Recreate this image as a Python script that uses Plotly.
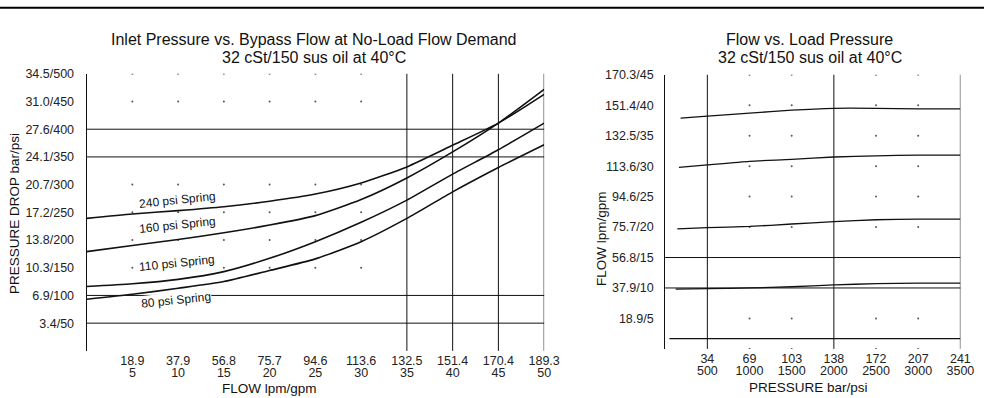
import plotly.graph_objects as go

FONT = "Liberation Sans, Arial, Helvetica, sans-serif"
INK = "#111111"

# ---------------- Left chart: Inlet Pressure vs. Bypass Flow ----------------
flow_gpm = [0, 5, 10, 15, 20, 25, 30, 35, 40, 45, 50]
spring_240 = [239, 247, 253, 260, 270, 283, 303, 332, 371, 411, 463]
spring_160 = [179, 190, 201, 213, 227, 244, 273, 312, 359, 411, 472]
spring_110 = [116, 121, 129, 143, 167, 197, 232, 272, 319, 363, 411]
spring_80 = [93, 102, 113, 125, 145, 166, 197, 239, 287, 331, 372]
spring_names = ["240 psi Spring", "160 psi Spring", "110 psi Spring", "80 psi Spring"]
label_flow = [9.9, 9.9, 9.9, 9.8]
label_psi = [272, 228, 158, 92]

left_x_ticks = [5, 10, 15, 20, 25, 30, 35, 40, 45, 50]
left_x_lpm = ["18.9", "37.9", "56.8", "75.7", "94.6", "113.6", "132.5", "151.4", "170.4", "189.3"]
left_y_ticks = [50, 100, 150, 200, 250, 300, 350, 400, 450, 500]
left_y_bar = ["3.4", "6.9", "10.3", "13.8", "17.2", "20.7", "24.1", "27.6", "31.0", "34.5"]
left_solid_x = [35, 40, 45, 50]
left_solid_y = [50, 100, 350, 400]
left_dot_x = [5, 10, 15, 20, 25, 30]
left_dot_y = [150, 200, 250, 300, 450, 500]

# ---------------- Right chart: Flow vs. Load Pressure ----------------
load_psi = [500, 1000, 1500, 2000, 2500, 3000, 3500]
curve_start_psi = [183, 163, 144, 124, 50]
curve_start_flow = [37.9, 29.8, 19.7, 9.8, 1.7]
flow_a = [38.2, 38.7, 39.2, 39.5, 39.5, 39.4, 39.4]
flow_b = [30.2, 30.8, 31.1, 31.5, 31.7, 31.8, 31.8]
flow_c = [19.9, 20.1, 20.5, 20.9, 21.2, 21.3, 21.3]
flow_d = [9.9, 10.0, 10.2, 10.5, 10.7, 10.8, 10.8]
flow_e = [1.7, 1.7, 1.7, 1.7, 1.7, 1.7, 1.7]

right_x_ticks = [500, 1000, 1500, 2000, 2500, 3000, 3500]
right_x_bar = ["34", "69", "103", "138", "172", "207", "241"]
right_y_ticks = [5, 10, 15, 20, 25, 30, 35, 40, 45]
right_y_lpm = ["18.9", "37.9", "56.8", "75.7", "94.6", "113.6", "132.5", "151.4", "170.3"]
right_solid_x = [500, 2000, 3500]
right_solid_y = [10, 15]
right_dot_x = [1000, 1500, 2500, 3000]
right_dot_y = [0, 5, 20, 25, 30, 35, 40, 45]

fig = go.Figure()

# dotted minor grid (left)
fig.add_trace(go.Scatter(
    x=[x for x in left_dot_x for _ in left_dot_y],
    y=[y for _ in left_dot_x for y in left_dot_y],
    mode="markers", marker=dict(size=2, color="#555555"),
    xaxis="x", yaxis="y", hoverinfo="skip", showlegend=False))

for vals in [spring_240, spring_160, spring_110, spring_80]:
    fig.add_trace(go.Scatter(x=flow_gpm, y=vals, mode="lines",
                             line=dict(color=INK, width=1.6, shape="spline", smoothing=0.6),
                             xaxis="x", yaxis="y", showlegend=False))

# dotted minor grid (right)
fig.add_trace(go.Scatter(
    x=[x for x in right_dot_x for _ in right_dot_y],
    y=[y for _ in right_dot_x for y in right_dot_y],
    mode="markers", marker=dict(size=2, color="#555555"),
    xaxis="x2", yaxis="y2", hoverinfo="skip", showlegend=False))

for s_psi, s_flow, vals in zip(curve_start_psi, curve_start_flow,
                               [flow_a, flow_b, flow_c, flow_d, flow_e]):
    fig.add_trace(go.Scatter(x=[s_psi] + load_psi, y=[s_flow] + vals, mode="lines",
                             line=dict(color=INK, width=1.3, shape="spline", smoothing=0.6),
                             xaxis="x2", yaxis="y2", showlegend=False))

# placeholder traces so the second-row tick axes are drawn
fig.add_trace(go.Scatter(x=left_x_ticks, y=[None] * len(left_x_ticks), xaxis="x3", yaxis="y",
                         showlegend=False, hoverinfo="skip"))
fig.add_trace(go.Scatter(x=right_x_ticks, y=[None] * len(right_x_ticks), xaxis="x4", yaxis="y2",
                         showlegend=False, hoverinfo="skip"))

shapes = []
for xv in left_solid_x:
    shapes.append(dict(type="line", xref="x", yref="y domain", x0=xv, x1=xv, y0=0, y1=1,
                       line=dict(color=INK, width=1), layer="below"))
for yv in left_solid_y:
    shapes.append(dict(type="line", xref="x domain", yref="y", x0=0, x1=1, y0=yv, y1=yv,
                       line=dict(color=INK, width=1), layer="below"))
for xv in right_solid_x:
    shapes.append(dict(type="line", xref="x2", yref="y2 domain", x0=xv, x1=xv, y0=0, y1=1,
                       line=dict(color=INK, width=1), layer="below"))
for yv in right_solid_y:
    shapes.append(dict(type="line", xref="x2 domain", yref="y2", x0=0, x1=1, y0=yv, y1=yv,
                       line=dict(color=INK, width=1), layer="below"))
# frame line across the top of the image
shapes.append(dict(type="line", xref="paper", yref="paper", x0=0, x1=1, y0=0.998, y1=0.998,
                   line=dict(color="black", width=2)))

annotations = []
for name, fx, fy in zip(spring_names, label_flow, label_psi):
    annotations.append(dict(x=fx, y=fy, xref="x", yref="y", text=name, showarrow=False,
                            textangle=-6, font=dict(family=FONT, size=12, color=INK),
                            bgcolor="white", borderpad=0))

def pap(px, py):
    return px / 1000.0, 1 - py / 398.0

title_font = dict(family=FONT, size=16, color=INK)
axis_font = dict(family=FONT, size=13.5, color=INK)
for (px, py, txt, fnt, ang) in [
    (319, 33, "Inlet Pressure vs. Bypass Flow at No-Load Flow Demand", title_font, 0),
    (319, 51, "32 cSt/150 sus oil at 40°C", title_font, 0),
    (823, 33, "Flow vs. Load Pressure", title_font, 0),
    (823, 51, "32 cSt/150 sus oil at 40°C", title_font, 0),
    (274, 388, "FLOW lpm/gpm", axis_font, 0),
    (822, 387, "PRESSURE bar/psi", axis_font, 0),
    (15, 210, "PRESSURE DROP bar/psi", axis_font, -90),
    (612, 236, "FLOW lpm/gpm", axis_font, -90),
]:
    ax, ay = pap(px, py)
    annotations.append(dict(x=ax, y=ay, xref="paper", yref="paper", text=txt, showarrow=False,
                            xanchor="center", yanchor="middle", textangle=ang, font=fnt))

tick_font = dict(family=FONT, size=12.5, color="#222222")
LX = [0.088, 0.553]
RX = [0.676, 0.976]

fig.update_layout(
    width=1000, height=398,
    margin=dict(l=0, r=0, t=0, b=0),
    paper_bgcolor="white", plot_bgcolor="white",
    showlegend=False,
    shapes=shapes, annotations=annotations,
    xaxis=dict(domain=LX, range=[0, 50], tickvals=left_x_ticks, ticktext=left_x_lpm,
               showgrid=False, zeroline=False, showline=False, ticks="",
               tickfont=tick_font, anchor="y", ticklabelstandoff=1),
    xaxis3=dict(domain=LX, range=[0, 50], tickvals=left_x_ticks,
                ticktext=[str(v) for v in left_x_ticks], overlaying="x", side="bottom",
                showgrid=False, zeroline=False, showline=False, ticks="",
                tickfont=tick_font, anchor="y", ticklabelstandoff=13),
    yaxis=dict(domain=[1 - 350 / 398, 1 - 68 / 398], range=[0, 500], tickvals=left_y_ticks,
               ticktext=[f"{a}/{b}" for a, b in zip(left_y_bar, left_y_ticks)],
               showgrid=False, zeroline=False, showline=True, linecolor=INK, linewidth=1,
               ticks="", tickfont=tick_font, anchor="x", ticklabelstandoff=9),
    xaxis2=dict(domain=RX, range=[0, 3500], tickvals=right_x_ticks, ticktext=right_x_bar,
                showgrid=False, zeroline=False, showline=False, ticks="",
                tickfont=tick_font, anchor="y2", ticklabelstandoff=1),
    xaxis4=dict(domain=RX, range=[0, 3500], tickvals=right_x_ticks,
                ticktext=[str(v) for v in right_x_ticks], overlaying="x2", side="bottom",
                showgrid=False, zeroline=False, showline=False, ticks="",
                tickfont=tick_font, anchor="y2", ticklabelstandoff=13),
    yaxis2=dict(domain=[1 - 348 / 398, 1 - 69 / 398], range=[0, 45], tickvals=right_y_ticks,
                ticktext=[f"{a}/{b}" for a, b in zip(right_y_lpm, right_y_ticks)],
                showgrid=False, zeroline=False, showline=True, linecolor=INK, linewidth=1,
                ticks="", tickfont=tick_font, anchor="x2", ticklabelstandoff=8),
)

fig.write_html("out.html", config={"displayModeBar": False},
               post_script="document.body.style.margin='0px';document.body.style.padding='0px';")
